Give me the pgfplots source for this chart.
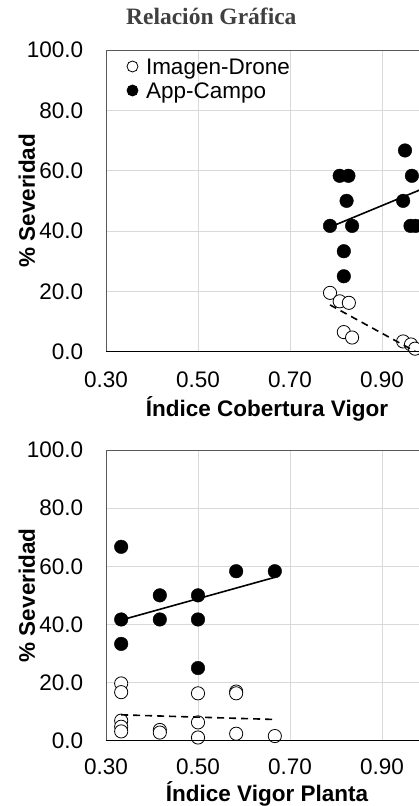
\documentclass[border=0pt]{standalone}
\usepackage{fontspec}
\setmainfont{Liberation Sans}
\newfontfamily\seriffont{Liberation Serif}
\usepackage{pgfplots}
\pgfplotsset{compat=1.18}
\definecolor{gridc}{HTML}{D9D9D9}
\definecolor{titlec}{HTML}{404040}
\definecolor{framec}{HTML}{595959}
\newcommand{\bigf}{\fontsize{22.5}{27}\selectfont}
\pgfplotsset{
  myaxis/.style={
    scale only axis, width=322pt,
    xmin=0.3, xmax=1.0, ymin=0, ymax=100,
    xtick={0.3,0.5,0.7,0.9}, ytick={0,20,40,60,80,100},
    major tick length=0pt,
    grid=major, major grid style={gridc, line width=0.8pt},
    axis line style={framec, line width=0.8pt},
    clip mode=individual,
    tick label style={font=\bigf, /pgf/number format/assume math mode=true},
    yticklabel style={/pgf/number format/fixed, /pgf/number format/fixed zerofill, /pgf/number format/precision=1, anchor=east, inner sep=0pt, xshift=-22.7pt},
    xticklabel style={/pgf/number format/fixed, /pgf/number format/fixed zerofill, /pgf/number format/precision=2, anchor=north, inner sep=0pt},
    label style={font=\bigf\bfseries},
    ylabel={\% Severidad},
    ylabel style={at={(axis description cs:-0.2205,0.5)}, anchor=base, rotate=0},
    opendot/.style={only marks, mark=*, mark size=6.6pt, mark options={fill=white, draw=black, line width=0.8pt}},
    filldot/.style={only marks, mark=*, mark size=6.8pt, mark options={fill=black, draw=black}},
    trend/.style={no marks, black, line width=1.6pt, forget plot},
    dtrend/.style={no marks, black, line width=1.6pt, dash pattern=on 7pt off 5pt, forget plot},
  }
}
\begin{document}
\begin{tikzpicture}
\path[use as bounding box, clip] (0,0) rectangle (419pt,806pt);
% ---------- top panel ----------
\begin{axis}[myaxis,
  at={(106pt,454.3pt)}, anchor=south west, height=301.7pt,
  xticklabel style={yshift=-20pt},
  title={\seriffont\bfseries Relación Gráfica},
  title style={at={(axis description cs:0.327,1.0646)}, anchor=base, font=\fontsize{23.5}{28}\selectfont, text=titlec},
  xlabel={Índice Cobertura Vigor},
  xlabel style={at={(axis description cs:0.5,-0.2164)}, anchor=base},
  legend style={at={(axis description cs:0,1)}, anchor=north west, xshift=20.8pt, yshift=-4.3pt, draw=none, fill=none, inner sep=0pt, font=\bigf, row sep=0pt, column sep=8pt, nodes={inner sep=0pt, text height=20pt, text depth=4pt}, cells={anchor=west}},
  legend image code/.code={\draw[#1, mark size=5.5pt, line width=0.8pt] plot coordinates {(0pt,0pt)};},
]
\addplot[opendot] coordinates {
 (0.787,19.5) (0.808,16.7) (0.828,16.2) (0.817,6.5) (0.835,4.7)
 (0.946,3.4) (0.963,2.4) (0.972,1.0)
};
\addlegendentry{Imagen-Drone}
\addplot[filldot] coordinates {
 (0.787,41.7) (0.808,58.3) (0.827,58.3) (0.823,50.0) (0.835,41.7)
 (0.817,33.3) (0.817,25.0) (0.950,66.7) (0.946,50.0) (0.965,58.3)
 (0.962,41.7) (0.973,41.7)
};
\addlegendentry{App-Campo}
\addplot[trend] coordinates {(0.787,41.3) (0.99,54.1)};
\addplot[dtrend] coordinates {(0.787,15.5) (0.99,-1.4)};
\draw[black, line width=1.2pt] (rel axis cs:0,0) -- (rel axis cs:1,0);
\end{axis}
% ---------- bottom panel ----------
\begin{axis}[myaxis,
  at={(106pt,65.3pt)}, anchor=south west, height=290.7pt,
  xticklabel style={yshift=-18pt},
  xlabel={Índice Vigor Planta},
  xlabel style={at={(axis description cs:0.5,-0.2098)}, anchor=base},
]
\addplot[opendot] coordinates {
 (0.333,19.7) (0.333,16.7) (0.333,6.9) (0.333,4.8) (0.333,3.2)
 (0.417,3.7) (0.417,2.8) (0.5,16.3) (0.5,6.3) (0.5,1.1)
 (0.583,16.9) (0.583,16.3) (0.583,2.4) (0.667,1.6)
};
\addplot[filldot] coordinates {
 (0.333,66.7) (0.333,41.7) (0.333,33.3) (0.417,50.0) (0.417,41.7)
 (0.5,50.0) (0.5,41.7) (0.5,25.0) (0.583,58.3) (0.667,58.3)
};
\addplot[trend] coordinates {(0.333,41.5) (0.667,56.2)};
\addplot[dtrend] coordinates {(0.333,8.9) (0.667,7.3)};
\draw[black, line width=1.2pt] (rel axis cs:0,0) -- (rel axis cs:1,0);
\end{axis}
\end{tikzpicture}
\end{document}
